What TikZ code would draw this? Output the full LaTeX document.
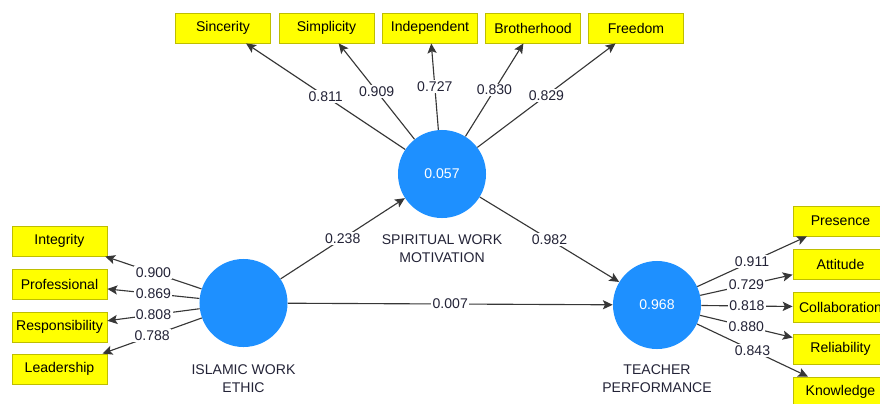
\documentclass[tikz,border=0pt]{standalone}
\usepackage{fontspec}
\setmainfont{Liberation Sans}
\usepackage{xcolor}
\usepackage{tikz}
\usetikzlibrary{positioning,arrows.meta}
\definecolor{lvblue}{RGB}{30,144,255}
\definecolor{indyellow}{RGB}{255,255,0}
\definecolor{indborder}{RGB}{190,190,0}
\definecolor{linkgray}{RGB}{55,55,55}
\definecolor{inkdark}{RGB}{35,35,55}

\begin{document}
\begin{tikzpicture}[
  x=0.025cm, y=-0.025cm,
  every node/.style={font=\fontsize{10}{13}\selectfont},
  lv/.style={circle, fill=lvblue, minimum size=2.2cm, inner sep=0pt,
             font=\fontsize{10}{13}\selectfont\color{white}},
  lvname/.style={align=center, text=inkdark, inner sep=0pt},
  ind/.style={rectangle, draw=indborder, fill=indyellow, line width=0.6pt,
              minimum width=2.375cm, minimum height=0.75cm, inner sep=1pt,
              text=black},
  link/.style={draw=linkgray, line width=0.8pt,
               -{Stealth[length=7pt,width=6.5pt,inset=1.5pt]}},
  coef/.style={fill=white, inner sep=1pt, text=inkdark}
]
  \useasboundingbox (0,0) rectangle (880,403);

  % latent variables
  \node[lv] (swm) at (442,174)   {0.057};
  \node[lv] (iwe) at (243.5,303) {};
  \node[lv] (tp)  at (657,305)   {0.968};
  \node[lvname] (swmname) at (442,249)   {SPIRITUAL WORK\\MOTIVATION};
  \node[lvname] (iwename) at (243.5,379) {ISLAMIC WORK\\ETHIC};
  \node[lvname] (tpname)  at (657,379)   {TEACHER\\PERFORMANCE};

  % indicators
  \node[ind] (sinc)  at (223,28)   {Sincerity};
  \node[ind] (simp)  at (326.5,28) {Simplicity};
  \node[ind] (indep) at (430,28)   {Independent};
  \node[ind] (broth) at (533,28)   {Brotherhood};
  \node[ind] (free)  at (636,28)   {Freedom};

  \node[ind] (integ) at (59.5,241) {Integrity};
  \node[ind] (prof)  at (59.5,284) {Professional};
  \node[ind] (resp)  at (59.5,327) {Responsibility};
  \node[ind] (lead)  at (59.5,369) {Leadership};

  \node[ind] (pres)  at (840.5,221) {Presence};
  \node[ind] (att)   at (840.5,264) {Attitude};
  \node[ind] (coll)  at (840.5,307) {Collaboration};
  \node[ind] (rel)   at (840.5,349) {Reliability};
  \node[ind] (know)  at (840.5,392) {Knowledge};

  % outer loadings
  \draw[link] (swm) -- node[coef] {0.811} (sinc);
  \draw[link] (swm) -- node[coef] {0.909} (simp);
  \draw[link] (swm) -- node[coef] {0.727} (indep);
  \draw[link] (swm) -- node[coef] {0.830} (broth);
  \draw[link] (swm) -- node[coef] {0.829} (free);

  \draw[link] (iwe) -- node[coef] {0.900} (integ);
  \draw[link] (iwe) -- node[coef] {0.869} (prof);
  \draw[link] (iwe) -- node[coef] {0.808} (resp);
  \draw[link] (iwe) -- node[coef] {0.788} (lead);

  \draw[link] (tp) -- node[coef] {0.911} (pres);
  \draw[link] (tp) -- node[coef] {0.729} (att);
  \draw[link] (tp) -- node[coef] {0.818} (coll);
  \draw[link] (tp) -- node[coef] {0.880} (rel);
  \draw[link] (tp) -- node[coef] {0.843} (know);

  % path coefficients
  \draw[link] (iwe) -- node[coef] {0.238} (swm);
  \draw[link] (swm) -- node[coef] {0.982} (tp);
  \draw[link] (iwe) -- node[coef] {0.007} (tp);
\end{tikzpicture}
\end{document}
